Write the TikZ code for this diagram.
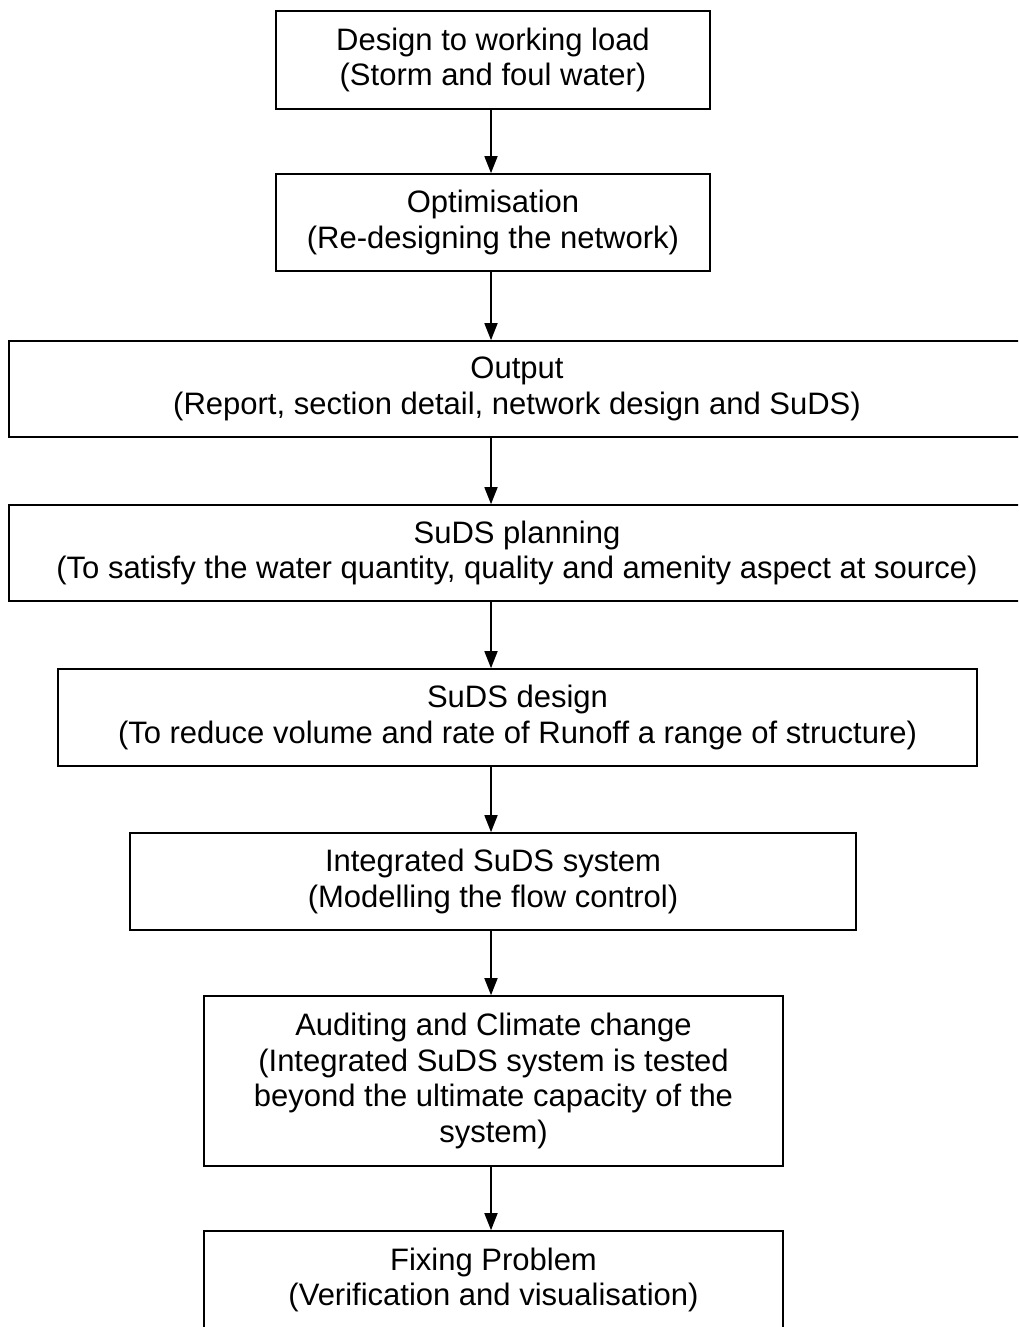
\documentclass[tikz,border=0pt]{standalone}
\usepackage{fontspec}
\setmainfont{Liberation Sans}
\usetikzlibrary{arrows.meta}

\begin{document}
\begin{tikzpicture}[x=1pt,y=-1pt,
  stage/.style={draw,line width=1.6pt,rectangle,align=center,inner sep=0pt,
    font=\fontsize{31}{35.5}\selectfont},
  flow/.style={line width=1.6pt,-{Triangle[length=17pt,width=13pt]}}]

% Page frame (everything outside is cut off)
\useasboundingbox (0,0) rectangle (1018,1327);
\clip (0,0) rectangle (1018,1327);

% Column of the arrows
\coordinate (arrx) at (491,0);

% Stages, top to bottom
\node[stage,minimum width=434pt,minimum height=98pt] (design) at (493,60)
  {Design to working load\\(Storm and foul water)};
\node[stage,minimum width=434pt,minimum height=97pt] (optim) at (493,222.5)
  {Optimisation\\(Re-designing the network)};
\node[stage,minimum width=1016pt,minimum height=96pt] (output) at (517,389)
  {Output\\(Report, section detail, network design and SuDS)};
\node[stage,minimum width=1016pt,minimum height=96pt] (plan) at (517,553)
  {SuDS planning\\(To satisfy the water quantity, quality and amenity aspect at source)};
\node[stage,minimum width=919pt,minimum height=97pt] (sudsdes) at (517.5,717.5)
  {SuDS design\\(To reduce volume and rate of Runoff a range of structure)};
\node[stage,minimum width=726pt,minimum height=97pt] (integ) at (493,881.5)
  {Integrated SuDS system\\(Modelling the flow control)};
\node[stage,minimum width=579pt,minimum height=170pt] (audit) at (493.5,1081)
  {Auditing and Climate change\\(Integrated SuDS system is tested\\beyond the ultimate capacity of the\\system)};
\node[stage,minimum width=579pt,minimum height=98pt] (fix) at (493.5,1280)
  {Fixing Problem\\(Verification and visualisation)};

% Arrows between stages
\draw[flow] (design.south -| arrx) -- (optim.north -| arrx);
\draw[flow] (optim.south -| arrx) -- (output.north -| arrx);
\draw[flow] (output.south -| arrx) -- (plan.north -| arrx);
\draw[flow] (plan.south -| arrx) -- (sudsdes.north -| arrx);
\draw[flow] (sudsdes.south -| arrx) -- (integ.north -| arrx);
\draw[flow] (integ.south -| arrx) -- (audit.north -| arrx);
\draw[flow] (audit.south -| arrx) -- (fix.north -| arrx);

\end{tikzpicture}
\end{document}
